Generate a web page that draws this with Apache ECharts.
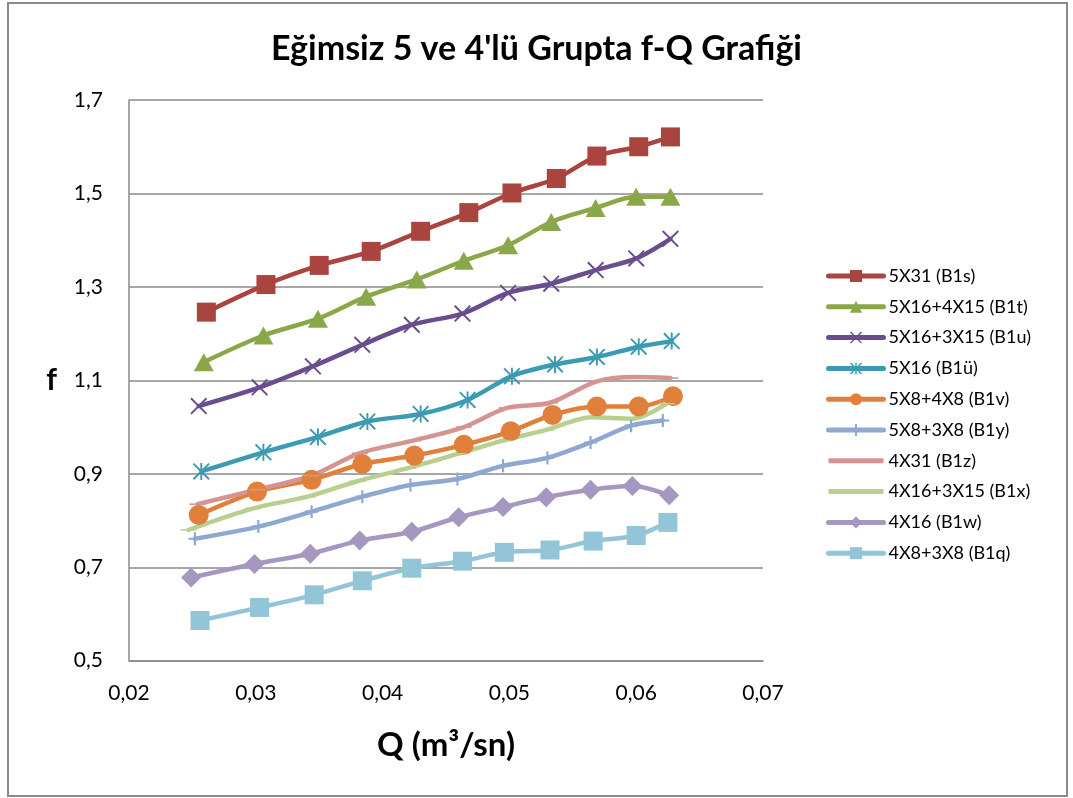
<!DOCTYPE html>
<html>
<head>
<meta charset="utf-8">
<script src="https://cdn.jsdelivr.net/npm/echarts@6/dist/echarts.min.js"></script>
<style>
  html, body { margin: 0; padding: 0; background: #fff; }
  #chart { width: 1073px; height: 798px; }
</style>
</head>
<body>
<div id="chart"></div>
<script>
// Debi (Q, m³/sn) ve sürtünme katsayısı (f) ölçümleri, her deney grubu için
const seriesNames = [
  '5X31 (B1s)', '5X16+4X15 (B1t)', '5X16+3X15 (B1u)', '5X16 (B1ü)', '5X8+4X8 (B1v)',
  '5X8+3X8 (B1y)', '4X31 (B1z)', '4X16+3X15 (B1x)', '4X16 (B1w)', '4X8+3X8 (B1q)'
];

const qB1s = [0.0261, 0.0308, 0.0350, 0.0391, 0.0430, 0.0468, 0.0502, 0.0537, 0.0569, 0.0602, 0.0627];
const fB1s = [1.246, 1.305, 1.346, 1.376, 1.419, 1.459, 1.501, 1.532, 1.580, 1.600, 1.621];

const qB1t = [0.0259, 0.0306, 0.0349, 0.0387, 0.0427, 0.0464, 0.0499, 0.0533, 0.0568, 0.0600, 0.0627];
const fB1t = [1.139, 1.196, 1.232, 1.279, 1.316, 1.356, 1.389, 1.439, 1.469, 1.493, 1.493];

const qB1u = [0.0255, 0.0303, 0.0345, 0.0384, 0.0423, 0.0463, 0.0499, 0.0533, 0.0568, 0.0600, 0.0627];
const fB1u = [1.045, 1.085, 1.130, 1.176, 1.219, 1.243, 1.287, 1.307, 1.336, 1.361, 1.403];

const qB1ue = [0.0257, 0.0306, 0.0349, 0.0388, 0.0430, 0.0467, 0.0502, 0.0536, 0.0569, 0.0602, 0.0628];
const fB1ue = [0.905, 0.946, 0.979, 1.012, 1.028, 1.058, 1.109, 1.134, 1.150, 1.172, 1.184];

const qB1v = [0.0255, 0.0301, 0.0344, 0.0384, 0.0425, 0.0464, 0.0501, 0.0534, 0.0569, 0.0602, 0.0629];
const fB1v = [0.812, 0.862, 0.887, 0.921, 0.939, 0.962, 0.991, 1.026, 1.044, 1.044, 1.066];

const qB1y = [0.0252, 0.0302, 0.0344, 0.0384, 0.0422, 0.0459, 0.0495, 0.0530, 0.0564, 0.0596, 0.0621];
const fB1y = [0.761, 0.787, 0.819, 0.851, 0.876, 0.889, 0.917, 0.934, 0.967, 1.003, 1.014];

const qB1z = [0.0254, 0.0301, 0.0344, 0.0382, 0.0424, 0.0464, 0.0498, 0.0532, 0.0569, 0.0600, 0.0627];
const fB1z = [0.835, 0.866, 0.896, 0.944, 0.971, 1.000, 1.041, 1.052, 1.098, 1.107, 1.105];

const qB1x = [0.0247, 0.0298, 0.0341, 0.0380, 0.0420, 0.0460, 0.0495, 0.0529, 0.0565, 0.0597, 0.0624];
const fB1x = [0.780, 0.826, 0.851, 0.884, 0.912, 0.943, 0.971, 0.994, 1.021, 1.018, 1.050];

const qB1w = [0.0249, 0.0299, 0.0343, 0.0382, 0.0423, 0.0460, 0.0495, 0.0529, 0.0564, 0.0597, 0.0626];
const fB1w = [0.678, 0.707, 0.729, 0.757, 0.776, 0.807, 0.829, 0.850, 0.866, 0.874, 0.854];

const qB1q = [0.0256, 0.0303, 0.0346, 0.0384, 0.0423, 0.0463, 0.0496, 0.0532, 0.0566, 0.0600, 0.0625];
const fB1q = [0.586, 0.614, 0.641, 0.671, 0.698, 0.713, 0.732, 0.737, 0.756, 0.768, 0.796];

// Eksen sınırları
const qMin = 0.02, qMax = 0.07, qStep = 0.01;
const fMin = 0.5, fMax = 1.7;

// İşaretçi biçimleri
const SYM_X = 'path://M0,1.3L1.3,0L16,14.7L14.7,16Z M14.7,0L16,1.3L1.3,16L0,14.7Z';
const SYM_STAR = 'path://M0,1.3L1.3,0L16,14.7L14.7,16Z M14.7,0L16,1.3L1.3,16L0,14.7Z M7.1,0L8.9,0L8.9,16L7.1,16Z';
const SYM_PLUS = 'path://M5,0L7,0L7,12L5,12Z M0,5L12,5L12,7L0,7Z';
const SYM_DASH = 'path://M0,0L16,0L16,5L0,5Z';
const LEGEND_BAR = 'path://M0,0L55,0L55,5L0,5Z';

const FONT = 'Lato, "Open Sans", "Noto Sans", sans-serif';

function pairs(q, f) { return q.map((v, i) => [v, f[i]]); }

function line(name, q, f, color, symbol, size, keepAspect) {
  return {
    name: name,
    type: 'line',
    data: pairs(q, f),
    smooth: 0.3,
    symbol: symbol,
    symbolSize: size,
    symbolKeepAspect: !!keepAspect,
    showSymbol: true,
    lineStyle: { color: color, width: 4.5, cap: 'round', join: 'round' },
    itemStyle: { color: color, borderWidth: 0 },
    emphasis: { disabled: true },
    animation: false
  };
}

const series = [
  line(seriesNames[0], qB1s, fB1s, '#A9443F', 'rect', 19),
  line(seriesNames[1], qB1t, fB1t, '#8AA84A', 'triangle', [20, 18]),
  line(seriesNames[2], qB1u, fB1u, '#6A4D8E', SYM_X, 17),
  line(seriesNames[3], qB1ue, fB1ue, '#3C9AB3', SYM_STAR, 17),
  line(seriesNames[4], qB1v, fB1v, '#E0803A', 'circle', 20),
  line(seriesNames[5], qB1y, fB1y, '#8EA8D2', SYM_PLUS, 13),
  line(seriesNames[6], qB1z, fB1z, '#D49492', SYM_DASH, [16, 5], true),
  line(seriesNames[7], qB1x, fB1x, '#B8D08F', SYM_DASH, [16, 5], true),
  line(seriesNames[8], qB1w, fB1w, '#A697C0', 'diamond', 20),
  line(seriesNames[9], qB1q, fB1q, '#92C5D7', 'rect', 19)
];

// Gösterge: kısa çizgi işaretli iki seri yalnızca çizgi olarak gösterilir
const legendData = seriesNames.map((n, i) =>
  (i === 6 || i === 7) ? { name: n, icon: LEGEND_BAR } : { name: n }
);

const chart = echarts.init(document.getElementById('chart'), null, { renderer: 'canvas' });

chart.setOption({
  backgroundColor: '#ffffff',
  animation: false,
  title: {
    text: "Eğimsiz 5 ve 4'lü Grupta f-Q Grafiği",
    left: 'center',
    top: 27,
    textStyle: { fontFamily: FONT, fontSize: 34, fontWeight: 'bold', color: '#000' }
  },
  grid: { left: 129, right: 310, top: 100, bottom: 137.3, containLabel: false },
  legend: {
    orient: 'vertical',
    left: 821,
    top: 262,
    itemWidth: 55,
    itemHeight: 15,
    itemGap: 12.8,
    data: legendData,
    lineStyle: { width: 5, cap: 'round' },
    textStyle: { fontFamily: FONT, fontSize: 18, color: '#000' },
    selectedMode: false
  },
  xAxis: {
    type: 'value',
    min: qMin,
    max: qMax,
    interval: qStep,
    name: 'Q (m³/sn)',
    nameLocation: 'middle',
    nameGap: 68,
    nameTextStyle: { fontFamily: FONT, fontSize: 33, fontWeight: 'bold', color: '#000' },
    axisLine: { show: true, lineStyle: { color: '#8a8a8a', width: 1.5 } },
    axisTick: { show: false },
    splitLine: { show: false },
    axisLabel: {
      fontFamily: FONT, fontSize: 21, color: '#000', margin: 22,
      formatter: v => v.toFixed(2).replace('.', ',')
    }
  },
  yAxis: {
    type: 'value',
    min: fMin,
    max: fMax,
    interval: 0.1,
    name: 'f',
    nameLocation: 'middle',
    nameRotate: 0,
    nameGap: 72,
    nameTextStyle: { fontFamily: FONT, fontSize: 30, fontWeight: 'bold', color: '#000' },
    axisLine: { show: true, lineStyle: { color: '#8a8a8a', width: 1.5 } },
    axisTick: { show: false },
    splitLine: { show: true, lineStyle: { color: ['#8a8a8a', 'rgba(0,0,0,0)'], width: 1.5 } },
    axisLabel: {
      fontFamily: FONT, fontSize: 21, color: '#000', margin: 26,
      formatter: v => (Math.round(v * 10) % 2 === 1 ? v.toFixed(1).replace('.', ',') : '')
    }
  },
  graphic: [{
    type: 'rect',
    shape: { x: 8, y: 3, width: 1059, height: 793 },
    style: { fill: 'none', stroke: '#8a8a8a', lineWidth: 2 },
    silent: true,
    z: 100
  }],
  series: series
});
</script>
</body>
</html>
